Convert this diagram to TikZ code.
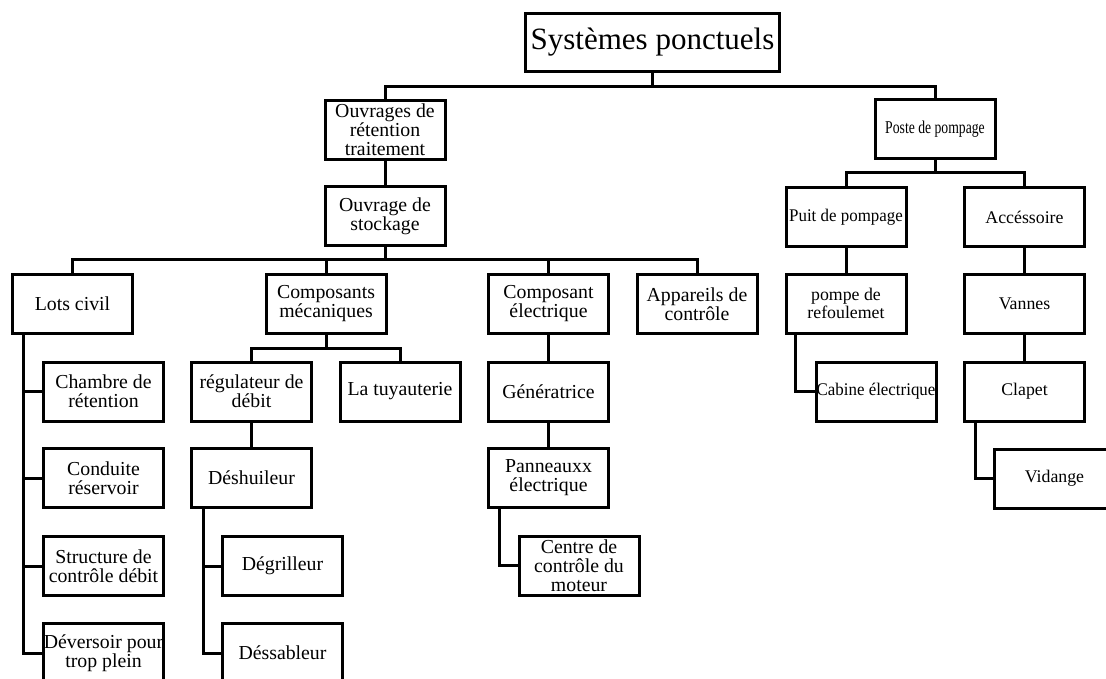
\documentclass[tikz,border=0pt]{standalone}
\usepackage{fontspec}
\usepackage{graphicx}
\setmainfont{Liberation Serif}
\newcommand{\lft}{\fontsize{19.8}{19}\selectfont}
\newcommand{\rgt}{\fontsize{17.8}{17}\selectfont}
\tikzset{
  box/.style={draw, line width=3pt, minimum width=120pt, minimum height=59pt,
    inner sep=0pt, align=center, font=\lft},
  rbox/.style={box, font=\rgt},
  link/.style={line width=3pt},
}
\begin{document}
\begin{tikzpicture}[x=1pt,y=-1pt]
\useasboundingbox (0,0) rectangle (1106,679);
\clip (0,0) rectangle (1106,679);
\fill[white] (0,0) rectangle (1106,679);

% nodes
\node[box, minimum width=254pt, minimum height=58pt, font=\fontsize{31}{31}\selectfont] (sys) at (652.5,42.5) {Systèmes ponctuels};
\node[box] (ouv) at (385,130) {Ouvrages de\\rétention\\traitement};
\node[box] (stock) at (385,216.5) {Ouvrage de\\stockage};
\node[rbox] (poste) at (935,129.5) {\scalebox{0.76}[1]{\fontsize{18}{18}\selectfont Poste de pompage}};
\node[rbox] (puit) at (846,217) {\scalebox{0.95}[1]{Puit de pompage}};
\node[rbox] (acc) at (1024.5,217) {Accéssoire};

\node[box] (lots) at (72.5,303.5) {Lots civil};
\node[box] (meca) at (326,303.5) {Composants\\mécaniques};
\node[box] (elec) at (548.5,304) {Composant\\électrique};
\node[box] (app) at (697,304) {Appareils de\\contrôle};
\node[rbox, font=\fontsize{17.8}{15.5}\selectfont] (pompe) at (846,303.5) {pompe de\\refoulemet};
\node[rbox] (vannes) at (1024.5,303.5) {Vannes};

\node[box] (chambre) at (103.5,391.5) {Chambre de\\rétention};
\node[box] (regul) at (251.5,391.5) {régulateur de\\débit};
\node[box] (tuy) at (400,391.5) {La tuyauterie};
\node[box] (gen) at (548.5,391.5) {Génératrice};
\node[rbox] (cabine) at (876,391.5) {\scalebox{0.95}[1]{Cabine électrique}};
\node[rbox] (clapet) at (1024.5,391.5) {Clapet};

\node[box] (conduite) at (103.5,478) {Conduite\\réservoir};
\node[box] (deshu) at (251.5,478) {Déshuileur};
\node[box] (pann) at (548.5,478) {Panneauxx\\électrique};
\node[rbox] (vid) at (1054.5,478.5) {Vidange};

\node[box] (struct) at (103.5,566) {Structure de\\contrôle débit};
\node[box] (degr) at (282.5,566) {Dégrilleur};
\node[box] (centre) at (579,565.5) {Centre de\\contrôle du\\moteur};

\node[box] (dever) at (103.5,653) {Déversoir pour\\trop plein};
\node[box] (dessab) at (282.5,653) {Déssableur};

% bus coordinates
\coordinate (bus1) at (0,87);
\coordinate (bus2) at (0,260);
\coordinate (bus3) at (0,173);
\coordinate (bus4) at (0,348);

% connectors
\draw[link] (sys.south) -- (sys.south |- bus1);
\draw[link] (ouv.north) -- (ouv.north |- bus1) -| (poste.north);
\draw[link] (ouv.south) -- (stock.north);

\draw[link] (stock.south) -- (stock.south |- bus2);
\draw[link] (lots.north) -- (lots.north |- bus2) -| (app.north);
\draw[link] (meca.north) -- (meca.north |- bus2);
\draw[link] (elec.north) -- (elec.north |- bus2);

\draw[link] (poste.south) -- (poste.south |- bus3);
\draw[link] (puit.north) -- (puit.north |- bus3) -| (acc.north);
\draw[link] (puit.south) -- (pompe.north);
\draw[link] (acc.south) -- (vannes.north);
\draw[link] (vannes.south) -- (clapet.north);

\draw[link] (meca.south) -- (meca.south |- bus4);
\draw[link] (regul.north) -- (regul.north |- bus4) -| (tuy.north);
\draw[link] (regul.south) -- (deshu.north);
\draw[link] (elec.south) -- (gen.north);
\draw[link] (gen.south) -- (pann.north);

\draw[link] ([xshift=12pt]lots.south west) |- (chambre.west);
\draw[link] ([xshift=12pt]lots.south west) |- (conduite.west);
\draw[link] ([xshift=12pt]lots.south west) |- (struct.west);
\draw[link] ([xshift=12pt]lots.south west) |- (dever.west);

\draw[link] ([xshift=13pt]deshu.south west) |- (degr.west);
\draw[link] ([xshift=13pt]deshu.south west) |- (dessab.west);

\draw[link] ([xshift=12pt]pann.south west) |- (centre.west);
\draw[link] ([xshift=11pt]pompe.south west) |- (cabine.west);
\draw[link] ([xshift=12pt]clapet.south west) |- (vid.west);
\end{tikzpicture}
\end{document}
